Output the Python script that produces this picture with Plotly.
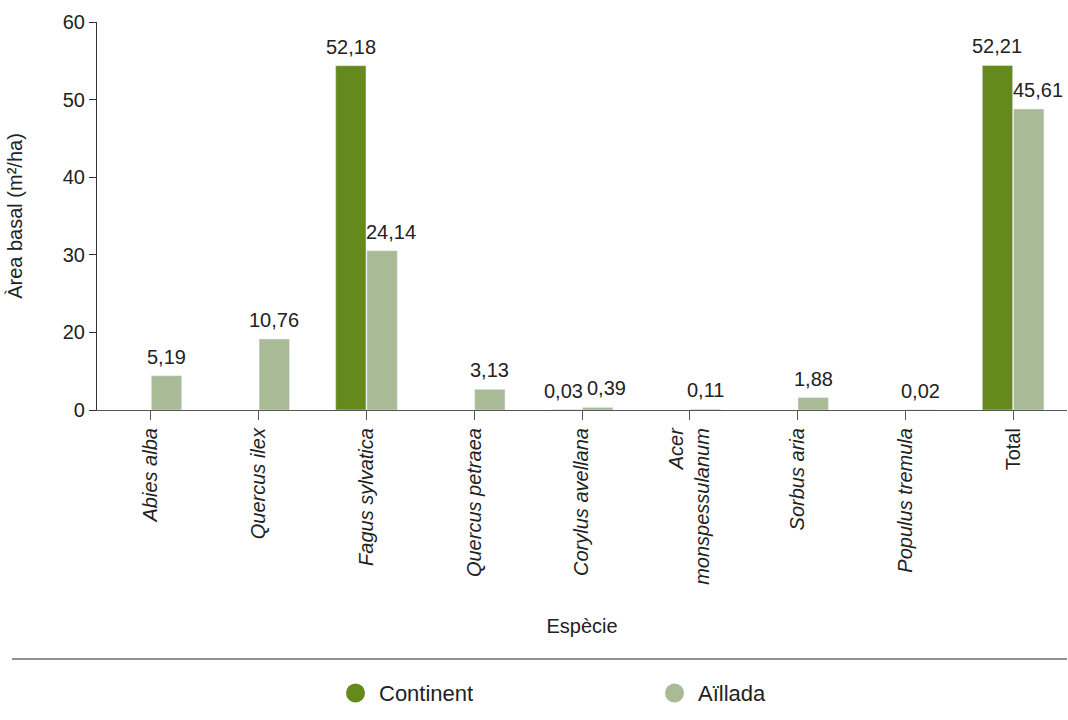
import plotly.graph_objects as go
import numpy as np

categories = ["<i>Abies alba</i>", "<i>Quercus ilex</i>", "<i>Fagus sylvatica</i>",
              "<i>Quercus petraea</i>", "<i>Corylus avellana</i>",
              "<i>Acer<br>monspessulanum</i>", "<i>Sorbus aria</i>",
              "<i>Populus tremula</i>", "Total"]
continent = [None, None, 52.18, None, 0.03, None, None, None, 52.21]
aillada = [5.19, 10.76, 24.14, 3.13, 0.39, 0.11, 1.88, 0.02, 45.61]
ytick_labels = ["0", "20", "30", "40", "50", "60"]
series_names = ["Continent", "Aïllada"]

c_cont = "#66891e"
c_ail = "#a9ba97"
font_family = "Liberation Sans, Arial, sans-serif"
txt_col = "#222222"

def fmt(v):
    return "" if v is None else f"{v:.2f}".replace(".", ",")

x = list(range(len(categories)))
BARGAP, GROUPGAP = 0.42, 0.03
slot = (1 - BARGAP) / 2

fig = go.Figure()
for name, vals, col in [(series_names[0], continent, c_cont), (series_names[1], aillada, c_ail)]:
    fig.add_trace(go.Bar(x=x, y=vals, name=name, marker_color=col, showlegend=False))

# value labels (placed on the bars, nudged apart where two labels would collide)
annotations = []
for i in x:
    c, a = continent[i], aillada[i]
    for k, v in enumerate((c, a)):
        if v is None:
            continue
        xs = 0
        if c is not None and a is not None:
            if k == 1:
                xs = 9
            elif abs(c - a) < 3:
                xs = -3
        annotations.append(dict(
            x=i + (k - 0.5) * slot, y=v, xref="x", yref="y", text=fmt(v),
            showarrow=False, xanchor="center", yanchor="bottom",
            xshift=xs, yshift=6, font=dict(size=20, color=txt_col)))

ymax = 58.8
tickvals = list(np.linspace(0, ymax, len(ytick_labels)))

PL, PT, PW, PH = 97, 22, 970, 388
def px_x(p):
    return (p - PL) / PW
def px_y(p):
    return (PT + PH - p) / PH

shapes = [dict(type="line", xref="paper", yref="paper",
               x0=px_x(12), x1=px_x(1067), y0=px_y(659), y1=px_y(659),
               line=dict(color="#222222", width=1.2))]
leg_y = px_y(693)
for name, col, cx in [(series_names[0], c_cont, 355.5), (series_names[1], c_ail, 674.5)]:
    shapes.append(dict(type="circle", xref="paper", yref="paper",
                       xsizemode="pixel", ysizemode="pixel",
                       xanchor=px_x(cx), yanchor=leg_y,
                       x0=-9.5, x1=9.5, y0=-9.5, y1=9.5,
                       fillcolor=col, line=dict(width=0)))
    annotations.append(dict(text=name, xref="paper", yref="paper",
                            x=px_x(cx + 21), y=leg_y, xanchor="left", yanchor="middle",
                            showarrow=False, font=dict(size=22, color=txt_col)))

fig.update_layout(
    width=1068, height=720,
    margin=dict(l=PL, r=1068 - PL - PW, t=PT, b=720 - PT - PH, autoexpand=False),
    plot_bgcolor="white", paper_bgcolor="white",
    font=dict(family=font_family, size=20, color=txt_col),
    barmode="group", bargap=BARGAP, bargroupgap=GROUPGAP,
    showlegend=False,
    shapes=shapes, annotations=annotations,
)
fig.update_xaxes(
    tickmode="array", tickvals=x, ticktext=categories, tickangle=-90,
    range=[-0.5, len(categories) - 0.5],
    showline=True, linecolor="#555555", linewidth=1.2,
    ticks="outside", tickson="boundaries", ticklen=9, tickcolor="#555555",
    tickfont=dict(size=20, color=txt_col),
    showgrid=False, zeroline=False, automargin=False,
    title=dict(text="Espècie", font=dict(size=20, color=txt_col), standoff=35),
)
fig.update_yaxes(
    range=[0, ymax], tickmode="array", tickvals=tickvals, ticktext=ytick_labels,
    showline=True, linecolor="#333333", linewidth=1.2,
    ticks="outside", ticklen=7, tickcolor="#333333",
    tickfont=dict(size=20, color=txt_col),
    showgrid=False, zeroline=False, automargin=False,
    title=dict(text="Àrea basal (m²/ha)", font=dict(size=20, color=txt_col), standoff=34),
)
fig.write_html("out.html", config={"responsive": False, "displayModeBar": False},
               post_script="document.body.style.margin='0px';document.body.style.overflow='hidden';")
